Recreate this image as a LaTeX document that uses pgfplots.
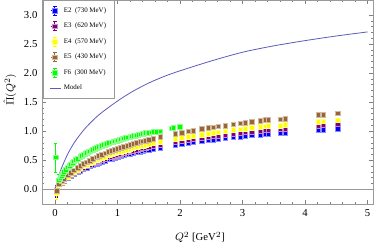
\documentclass[border=0pt]{standalone}
\usepackage{fontspec}
\setmainfont{Liberation Serif}
\usepackage{pgfplots}
\usepackage{pgfplotstable}
\pgfplotsset{compat=1.18}
\definecolor{cEtwo}{rgb}{0,0,1}
\definecolor{cEthree}{rgb}{0.5,0,0.5}
\definecolor{cEfour}{rgb}{1,1,0}
\definecolor{cEfive}{rgb}{0.6,0.4,0.2}
\definecolor{cFsix}{rgb}{0,1,0}
\definecolor{cModel}{rgb}{0.36,0.36,0.72}

\pgfplotstableread{
x y e
0.02 -0.06 0.08
0.06 0.070 0.025
0.10 0.110 0.025
0.14 0.146 0.025
0.20 0.195 0.025
0.25 0.231 0.025
0.30 0.265 0.025
0.36 0.301 0.025
0.40 0.323 0.025
0.45 0.350 0.025
0.50 0.374 0.025
0.55 0.398 0.025
0.60 0.419 0.025
0.66 0.444 0.025
0.70 0.459 0.025
0.75 0.478 0.025
0.80 0.496 0.025
0.86 0.516 0.025
0.90 0.529 0.025
0.95 0.545 0.025
1.00 0.559 0.025
1.05 0.574 0.025
1.10 0.588 0.025
1.16 0.604 0.025
1.20 0.614 0.025
1.25 0.626 0.025
1.30 0.638 0.025
1.36 0.653 0.025
1.40 0.662 0.025
1.45 0.673 0.025
1.50 0.684 0.025
1.57 0.698 0.025
1.68 0.720 0.025
1.92 0.764 0.035
2.03 0.782 0.035
2.13 0.798 0.035
2.21 0.810 0.035
2.35 0.831 0.035
2.45 0.846 0.035
2.53 0.857 0.035
2.61 0.867 0.035
2.72 0.881 0.035
2.85 0.898 0.035
2.96 0.910 0.035
3.04 0.920 0.035
3.15 0.932 0.035
3.28 0.946 0.035
3.36 0.954 0.035
3.41 0.960 0.035
3.60 0.968 0.035
3.68 0.976 0.035
4.21 1.024 0.035
4.29 1.032 0.035
4.52 1.048 0.035
}\tabEtwo

\pgfplotstableread{
x y e
0.02 -0.04 0.08
0.06 0.074 0.025
0.10 0.117 0.025
0.14 0.156 0.025
0.20 0.209 0.025
0.25 0.247 0.025
0.30 0.283 0.025
0.36 0.321 0.025
0.40 0.345 0.025
0.45 0.374 0.025
0.50 0.400 0.025
0.55 0.425 0.025
0.60 0.448 0.025
0.66 0.475 0.025
0.70 0.491 0.025
0.75 0.511 0.025
0.80 0.530 0.025
0.86 0.551 0.025
0.90 0.565 0.025
0.95 0.582 0.025
1.00 0.598 0.025
1.05 0.613 0.025
1.10 0.628 0.025
1.16 0.646 0.025
1.20 0.657 0.025
1.25 0.669 0.025
1.30 0.682 0.025
1.36 0.698 0.025
1.40 0.707 0.025
1.45 0.719 0.025
1.50 0.731 0.025
1.57 0.746 0.025
1.68 0.770 0.025
1.92 0.817 0.035
2.03 0.836 0.035
2.13 0.853 0.035
2.21 0.866 0.035
2.35 0.888 0.035
2.45 0.904 0.035
2.53 0.916 0.035
2.61 0.927 0.035
2.72 0.941 0.035
2.85 0.959 0.035
2.96 0.973 0.035
3.04 0.983 0.035
3.15 0.996 0.035
3.28 1.011 0.035
3.36 1.020 0.035
3.41 1.026 0.035
3.60 1.035 0.035
3.68 1.043 0.035
4.21 1.094 0.035
4.29 1.103 0.035
4.52 1.120 0.035
}\tabEthree

\pgfplotstableread{
x y e
0.02 -0.07 0.10
0.06 0.079 0.025
0.10 0.125 0.025
0.14 0.167 0.025
0.20 0.222 0.025
0.25 0.263 0.025
0.30 0.301 0.025
0.36 0.342 0.025
0.40 0.368 0.025
0.45 0.398 0.025
0.50 0.426 0.025
0.55 0.452 0.025
0.60 0.477 0.025
0.66 0.505 0.025
0.70 0.522 0.025
0.75 0.544 0.025
0.80 0.564 0.025
0.86 0.587 0.025
0.90 0.602 0.025
0.95 0.620 0.025
1.00 0.636 0.025
1.05 0.652 0.025
1.10 0.669 0.025
1.16 0.687 0.025
1.20 0.699 0.025
1.25 0.713 0.025
1.30 0.726 0.025
1.36 0.743 0.025
1.40 0.753 0.025
1.45 0.765 0.025
1.50 0.778 0.025
1.57 0.794 0.025
1.68 0.819 0.025
1.92 0.869 0.035
2.03 0.890 0.035
2.13 0.908 0.035
2.21 0.922 0.035
2.35 0.945 0.035
2.45 0.962 0.035
2.53 0.975 0.035
2.61 0.986 0.035
2.72 1.002 0.035
2.85 1.021 0.035
2.96 1.036 0.035
3.04 1.047 0.035
3.15 1.060 0.035
3.28 1.077 0.035
3.36 1.086 0.035
3.41 1.092 0.035
3.60 1.101 0.035
3.68 1.110 0.035
4.21 1.165 0.035
4.29 1.174 0.035
4.52 1.192 0.035
}\tabEfour

\pgfplotstableread{
x y e
0.02 -0.02 0.08
0.06 0.087 0.025
0.10 0.137 0.025
0.14 0.183 0.025
0.20 0.244 0.025
0.25 0.289 0.025
0.30 0.331 0.025
0.36 0.376 0.025
0.40 0.404 0.025
0.45 0.437 0.025
0.50 0.468 0.025
0.55 0.497 0.025
0.60 0.524 0.025
0.66 0.555 0.025
0.70 0.574 0.025
0.75 0.598 0.025
0.80 0.620 0.025
0.86 0.645 0.025
0.90 0.661 0.025
0.95 0.681 0.025
1.00 0.699 0.025
1.05 0.717 0.025
1.10 0.735 0.025
1.16 0.755 0.025
1.20 0.768 0.025
1.25 0.783 0.025
1.30 0.798 0.025
1.36 0.816 0.025
1.40 0.827 0.025
1.45 0.841 0.025
1.50 0.855 0.025
1.57 0.873 0.025
1.68 0.900 0.025
1.92 0.955 0.035
2.03 0.978 0.035
2.13 0.998 0.035
2.21 1.013 0.035
2.35 1.039 0.035
2.45 1.057 0.035
2.53 1.071 0.035
2.61 1.084 0.035
2.72 1.101 0.035
2.85 1.122 0.035
2.96 1.138 0.035
3.04 1.150 0.035
3.15 1.165 0.035
3.28 1.183 0.035
3.36 1.193 0.035
3.41 1.200 0.035
3.60 1.210 0.035
3.68 1.220 0.035
4.21 1.280 0.035
4.29 1.290 0.035
4.52 1.310 0.035
}\tabEfive

\pgfplotstableread{
x y e
0.01 0.55 0.25
0.06 0.159 0.09
0.08 0.200 0.05
0.10 0.237 0.04
0.12 0.270 0.03
0.14 0.300 0.03
0.17 0.340 0.025
0.20 0.379 0.025
0.23 0.410 0.025
0.25 0.434 0.025
0.28 0.460 0.025
0.30 0.482 0.025
0.33 0.508 0.025
0.36 0.532 0.025
0.40 0.561 0.025
0.43 0.582 0.025
0.45 0.596 0.025
0.48 0.615 0.025
0.50 0.627 0.025
0.53 0.645 0.025
0.55 0.656 0.025
0.58 0.672 0.025
0.60 0.683 0.025
0.63 0.698 0.025
0.66 0.712 0.025
0.70 0.731 0.025
0.73 0.744 0.025
0.75 0.753 0.025
0.78 0.765 0.025
0.80 0.773 0.025
0.83 0.785 0.025
0.86 0.797 0.025
0.90 0.811 0.025
0.93 0.822 0.025
0.95 0.829 0.025
0.98 0.839 0.025
1.00 0.846 0.025
1.03 0.856 0.025
1.05 0.862 0.025
1.08 0.871 0.025
1.10 0.878 0.025
1.13 0.887 0.025
1.16 0.895 0.025
1.20 0.907 0.025
1.23 0.915 0.025
1.25 0.920 0.025
1.28 0.928 0.025
1.30 0.934 0.025
1.33 0.942 0.025
1.36 0.949 0.025
1.40 0.959 0.025
1.43 0.965 0.025
1.45 0.969 0.025
1.48 0.974 0.025
1.50 0.977 0.025
1.54 0.983 0.025
1.57 0.988 0.025
1.62 0.993 0.025
1.68 1.000 0.025
1.86 1.050 0.03
1.89 1.060 0.03
1.99 1.080 0.03
}\tabFsix

\pgfplotstableread{
x y
0.00 0.000
0.02 0.085
0.05 0.198
0.10 0.356
0.20 0.600
0.30 0.790
0.40 0.940
0.50 1.070
0.70 1.280
1.00 1.520
1.25 1.690
1.50 1.830
1.75 1.945
2.00 2.040
2.50 2.210
3.00 2.360
3.50 2.470
4.00 2.560
4.50 2.640
5.00 2.710
}\tabModel

\pgfplotsset{
  errleg/.style={legend image code/.code={
    \draw[##1,mark=none,solid,line width=0.4pt] (0.14cm,-0.12cm)--(0.14cm,0.12cm)
       (0.09cm,-0.12cm)--(0.19cm,-0.12cm) (0.09cm,0.12cm)--(0.19cm,0.12cm)
       (0.04cm,0cm)--(0.24cm,0cm);
    \draw[##1] plot coordinates {(0.14cm,0cm)};
  }},
  modleg/.style={legend image code/.code={
    \draw[##1] (0.02cm,0cm)--(0.3cm,0cm);
  }},
  eset/.style={only marks, mark=square*, mark size=1.75pt,
    color=#1, mark options={fill=#1, draw=#1!45!white, line width=0.2pt},
    error bars/.cd, y dir=both, y explicit,
    error bar style={line width=0.35pt,color=#1},
    error mark options={rotate=90,mark size=1.3pt,color=#1},
    /pgfplots/.cd},
}

\begin{document}
\begin{tikzpicture}
\begin{axis}[
  scale only axis,
  width=248pt, height=153pt,
  xmin=-0.208, xmax=5.09,
  ymin=-0.26, ymax=3.26,
  xtick={0,1,2,3,4,5},
  ytick={0,0.5,1,1.5,2,2.5,3},
  minor x tick num=4,
  minor y tick num=4,
  tick align=inside,
  major tick length=3pt,
  minor tick length=1.6pt,
  every tick/.style={gray, line width=0.4pt},
  axis line style={gray!80, line width=0.5pt},
  /pgf/number format/assume math mode=true,
  yticklabel style={/pgf/number format/fixed, /pgf/number format/fixed zerofill, /pgf/number format/precision=1},
  ticklabel style={font=\fontsize{8}{9}\selectfont},
  xlabel={$Q^2$ [GeV$^2$]},
  ylabel={$\hat{\Pi}(Q^2)$},
  label style={font=\fontsize{8}{9}\selectfont},
  xlabel style={at={(axis description cs:0.477,-0.162)}, anchor=center},
  ylabel style={at={(axis description cs:-0.097,0.56)}, anchor=center},
  legend cell align=left,
  legend style={at={(axis description cs:0.004,1)}, anchor=north west,
    draw=gray!80, fill=white, line width=0.5pt,
    font=\fontsize{5.2}{6}\selectfont, row sep=2.5pt,
    inner xsep=4.5pt, inner ysep=3.2pt},
  clip=true,
]
\addplot[gray!80, line width=0.5pt, forget plot] coordinates {(-0.208,0) (5.09,0)};
\addplot[errleg, eset=cEtwo] table[x=x,y=y,y error=e] {\tabEtwo};
\addlegendentry{E2\ \ (730 MeV)}
\addplot[errleg, eset=cEthree] table[x=x,y=y,y error=e] {\tabEthree};
\addlegendentry{E3\ \ (620 MeV)}
\addplot[errleg, eset=cEfour] table[x=x,y=y,y error=e] {\tabEfour};
\addlegendentry{E4\ \ (570 MeV)}
\addplot[errleg, eset=cEfive] table[x=x,y=y,y error=e] {\tabEfive};
\addlegendentry{E5\ \ (430 MeV)}
\addplot[errleg, eset=cFsix] table[x=x,y=y,y error=e] {\tabFsix};
\addlegendentry{F6\ \ (300 MeV)}
\addplot[modleg, cModel, line width=0.6pt, smooth, mark=none] table[x=x,y=y] {\tabModel};
\addlegendentry{Model}
\end{axis}
\pgfresetboundingbox
\path[use as bounding box] ([xshift=-31.5pt,yshift=-31.5pt]current axis.south west) rectangle ([xshift=0.6pt]current axis.north east);
\end{tikzpicture}
\end{document}
